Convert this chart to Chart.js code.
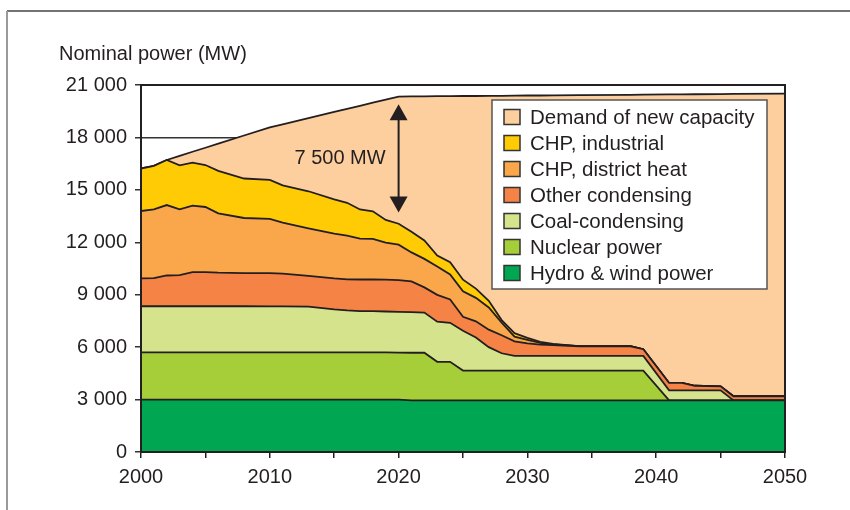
<!DOCTYPE html>
<html>
<head>
<meta charset="utf-8">
<script src="https://cdn.jsdelivr.net/npm/chart.js@4.4.1/dist/chart.umd.min.js"></script>
<style>
  html, body { margin: 0; padding: 0; background: #fff; }
  canvas { display: block; }
</style>
</head>
<body>
<canvas id="myCanvas" width="850" height="510"></canvas>
<script>
// years where the curves change slope
const years = [2000, 2001, 2002, 2003, 2004, 2005, 2006, 2008, 2010, 2011, 2013, 2015, 2016, 2017, 2018, 2019, 2020,
  2021, 2022, 2023, 2024, 2025, 2026, 2027, 2028, 2029, 2030, 2031, 2032,
  2034, 2038, 2039,
  2041, 2042, 2043, 2045, 2046, 2050];

// MW per source (not cumulative)
const hydroWind = [3000, 3000, 3000, 3000, 3000, 3000, 3000, 3000, 3000, 3000, 3000, 3000, 3000, 3000, 3000, 3000, 3000,
  2950, 2950, 2950, 2950, 2950, 2950, 2950, 2950, 2950, 2950, 2950, 2950,
  2950, 2950, 2950,
  2950, 2950, 2950, 2950, 2950, 2950];
const nuclear = [2700, 2700, 2700, 2700, 2700, 2700, 2700, 2700, 2700, 2700, 2700, 2700, 2700, 2700, 2700, 2700, 2690,
  2730, 2730, 2210, 2210, 1710, 1710, 1710, 1710, 1710, 1710, 1710, 1710,
  1710, 1710, 1710,
  0, 0, 0, 0, 0, 0];
const coalCondensing = [2640, 2640, 2640, 2640, 2640, 2640, 2640, 2640, 2630, 2630, 2620, 2460, 2400, 2360, 2360, 2340, 2330,
  2320, 2300, 2300, 2230, 2280, 1890, 1340, 990, 840, 840, 840, 840,
  840, 840, 840,
  580, 580, 580, 580, 0, 0];
const otherCondensing = [1590, 1610, 1760, 1780, 1950, 1950, 1920, 1900, 1900, 1880, 1760, 1770, 1780, 1810, 1810, 1820, 1820,
  1760, 1440, 1530, 1340, 800, 930, 1000, 1030, 830, 720, 650, 620,
  550, 550, 380,
  420, 420, 260, 230, 240, 240];
const chpDistrict = [3860, 3930, 4030, 3760, 3810, 3730, 3400, 3150, 3110, 2920, 2720, 2570, 2500, 2340, 2320, 2120, 2020,
  1660, 1630, 1630, 1430, 1450, 1340, 1270, 720, 270, 200, 100, 30,
  0, 0, 0,
  0, 0, 0, 0, 0, 0];
const chpIndustrial = [2430, 2490, 2580, 2520, 2460, 2400, 2430, 2260, 2230, 2130, 2120, 1960, 1880, 1670, 1580, 1300, 1200,
  1180, 1050, 620, 700, 670, 530, 380, 150, 200, 110, 50, 30,
  0, 0, 0,
  0, 0, 0, 0, 0, 0];
// total demand line (top of the chart)
const totalDemand = [16220, 16370, 16710, 16940, 17180, 17410, 17640, 18110, 18570, 18750, 19100, 19460, 19630, 19810, 19990, 20160, 20340,
  20350, 20350, 20360, 20360, 20370, 20370, 20380, 20380, 20390, 20400, 20400, 20410,
  20420, 20440, 20450,
  20460, 20460, 20470, 20480, 20490, 20510];

const seriesLabels = ['Hydro & wind power', 'Nuclear power', 'Coal-condensing', 'Other condensing',
  'CHP, district heat', 'CHP, industrial', 'Demand of new capacity'];
const seriesColors = ['#00a651', '#a6ce39', '#d5e48c', '#f58345', '#faa64b', '#ffcb05', '#fdcf9f'];

const yTicks = [0, 3000, 6000, 9000, 12000, 15000, 18000, 21000];
const xTickLabels = [2000, 2010, 2020, 2030, 2040, 2050];
const yTitle = 'Nominal power (MW)';
const gapLabel = '7 500 MW';
const gapYear = 2020;
const gapFrom = 19900;
const gapTo = 13700;

const textColor = '#231f20';
const fontFamily = '"Liberation Sans", Arial, sans-serif';

const supplied = [hydroWind, nuclear, coalCondensing, otherCondensing, chpDistrict, chpIndustrial];
const newCapacity = totalDemand.map((t, i) => Math.max(0, t - supplied.reduce((s, a) => s + a[i], 0)));
const allSeries = supplied.concat([newCapacity]);

function fmt(v) {
  if (v < 1000) return String(v);
  return Math.floor(v / 1000) + ' ' + String(v % 1000).padStart(3, '0');
}

const extras = {
  id: 'extras',
  beforeDraw(chart) {
    const ctx = chart.ctx;
    ctx.save();
    ctx.fillStyle = '#fff';
    ctx.fillRect(0, 0, chart.width, chart.height);
    ctx.strokeStyle = '#444';
    ctx.lineWidth = 1.5;
    ctx.beginPath(); ctx.moveTo(7, 11); ctx.lineTo(chart.width, 11); ctx.stroke();
    ctx.strokeStyle = '#9a9a9a';
    ctx.lineWidth = 2;
    ctx.beginPath(); ctx.moveTo(7, 11); ctx.lineTo(7, chart.height); ctx.stroke();
    ctx.fillStyle = textColor;
    ctx.font = '20px ' + fontFamily;
    ctx.textBaseline = 'alphabetic';
    ctx.textAlign = 'left';
    ctx.fillText(yTitle, 59, 60);
    ctx.restore();
  },
  afterDatasetsDraw(chart) {
    const { ctx, chartArea: a, scales: { x, y } } = chart;
    ctx.save();
    // plot frame
    ctx.strokeStyle = textColor;
    ctx.lineWidth = 2;
    ctx.strokeRect(a.left, a.top, a.right - a.left, a.bottom - a.top);

    // double arrow with the gap
    const ax = x.getPixelForValue(gapYear);
    const y1 = y.getPixelForValue(gapFrom);
    const y2 = y.getPixelForValue(gapTo);
    ctx.fillStyle = textColor;
    ctx.beginPath(); ctx.moveTo(ax, y1 + 10); ctx.lineTo(ax, y2 - 10); ctx.stroke();
    ctx.beginPath(); ctx.moveTo(ax, y1); ctx.lineTo(ax - 9, y1 + 16); ctx.lineTo(ax + 9, y1 + 16); ctx.closePath(); ctx.fill();
    ctx.beginPath(); ctx.moveTo(ax, y2); ctx.lineTo(ax - 9, y2 - 16); ctx.lineTo(ax + 9, y2 - 16); ctx.closePath(); ctx.fill();
    ctx.font = '20px ' + fontFamily;
    ctx.textAlign = 'right';
    ctx.textBaseline = 'middle';
    ctx.fillText(gapLabel, ax - 13, (y1 + y2) / 2);

    // legend box
    ctx.fillStyle = '#fff';
    ctx.fillRect(492, 100, 275, 189);
    ctx.strokeStyle = '#555';
    ctx.lineWidth = 1.5;
    ctx.strokeRect(492, 100, 275, 189);
    ctx.font = '20.5px ' + fontFamily;
    const items = chart.data.datasets.slice().reverse();
    items.forEach((ds, i) => {
      const cy = 117 + i * 26;
      ctx.fillStyle = ds.backgroundColor;
      ctx.fillRect(504, cy - 7.5, 16, 15);
      ctx.strokeStyle = '#333';
      ctx.strokeRect(504, cy - 7.5, 16, 15);
      ctx.fillStyle = textColor;
      ctx.textAlign = 'left';
      ctx.fillText(ds.label, 530, cy + 1);
    });
    ctx.restore();
  }
};

new Chart(document.getElementById('myCanvas'), {
  type: 'line',
  data: {
    datasets: allSeries.map((vals, i) => ({
      label: seriesLabels[i],
      data: years.map((yr, k) => ({ x: yr, y: vals[k] })),
      backgroundColor: seriesColors[i],
      borderColor: textColor,
      borderWidth: 1.8,
      pointRadius: 0,
      tension: 0,
      fill: i === 0 ? 'origin' : '-1'
    }))
  },
  options: {
    responsive: false,
    animation: false,
    layout: { padding: { top: 85, right: 65, bottom: 0, left: 0 } },
    plugins: {
      legend: { display: false },
      tooltip: { enabled: false }
    },
    scales: {
      x: {
        type: 'linear',
        min: 2000,
        max: 2050,
        afterFit: s => { s.height = 58; },
        ticks: {
          stepSize: 5,
          autoSkip: false,
          maxRotation: 0,
          padding: 7,
          color: textColor,
          font: { family: fontFamily, size: 20 },
          callback: v => xTickLabels.includes(v) ? String(v) : ''
        },
        grid: { drawOnChartArea: false, tickLength: 6, color: textColor, lineWidth: 1.5 },
        border: { display: true, color: textColor, width: 2 }
      },
      y: {
        stacked: true,
        min: 0,
        max: 21000,
        afterFit: s => { s.width = 141; },
        afterBuildTicks: s => { s.ticks = yTicks.map(v => ({ value: v })); },
        ticks: {
          padding: 8,
          color: textColor,
          font: { family: fontFamily, size: 20 },
          callback: v => fmt(v)
        },
        grid: { color: '#333', lineWidth: 1.5, tickLength: 6 },
        border: { display: true, color: textColor, width: 2 }
      }
    }
  },
  plugins: [extras]
});
</script>
</body>
</html>
